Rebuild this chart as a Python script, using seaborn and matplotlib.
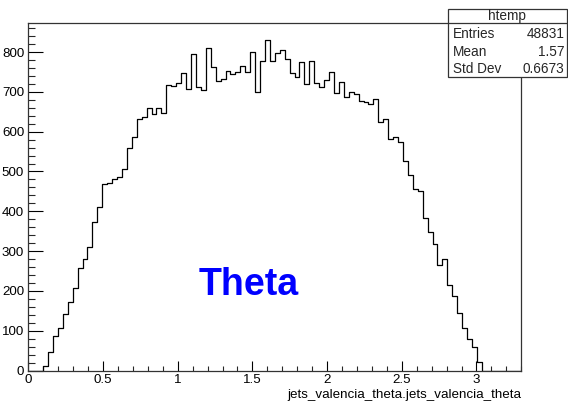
import numpy as np
import pandas as pd
import matplotlib
matplotlib.use("Agg")
import matplotlib.pyplot as plt
import seaborn as sns
from matplotlib.patches import Rectangle
from matplotlib.lines import Line2D
from matplotlib.ticker import MultipleLocator

# ---- data (100 bins on [0, 3.3]) ----
x_min, x_max, n_bins = 0.0, 3.3, 100
counts = [
    0, 0, 0, 11, 46, 87, 107, 143, 172, 207,
    257, 280, 310, 372, 410, 469, 470, 481, 485, 505,
    558, 587, 632, 638, 659, 644, 659, 648, 717, 715,
    723, 747, 707, 795, 713, 705, 810, 763, 728, 732,
    753, 744, 751, 766, 751, 801, 700, 778, 831, 778,
    798, 805, 782, 747, 737, 774, 720, 778, 722, 712,
    730, 749, 696, 724, 686, 699, 694, 678, 675, 669,
    681, 625, 631, 581, 587, 573, 527, 491, 456, 452,
    382, 347, 318, 265, 279, 215, 188, 145, 106, 78,
    58, 21, 0, 0, 0, 0, 0, 0, 0, 0,
]
x_tick_vals = [0, 0.5, 1, 1.5, 2, 2.5, 3]
x_tick_labels = ["0", "0.5", "1", "1.5", "2", "2.5", "3"]
y_tick_vals = [0, 100, 200, 300, 400, 500, 600, 700, 800]
x_title = "jets_valencia_theta.jets_valencia_theta"
annotation = "Theta"
stats_title = "htemp"
stats_rows = [("Entries", "48831"), ("Mean", "1.57"), ("Std Dev", "0.6673")]

# ---- figure ----
W, H = 568, 405
sns.set_theme(style="white")
plt.rcParams["font.family"] = ["Liberation Sans", "DejaVu Sans"]

fig = plt.figure(figsize=(W / 100, H / 100), dpi=100)
fig.patch.set_facecolor("white")
L, R, T, B = 28.3, 521.3, 23.2, 370.5
ax = fig.add_axes([L / W, 1 - B / H, (R - L) / W, (B - T) / H])

edges = np.linspace(x_min, x_max, n_bins + 1)
centers = 0.5 * (edges[:-1] + edges[1:])
df = pd.DataFrame({"theta": centers, "n": np.asarray(counts, dtype=float)})
sns.histplot(data=df, x="theta", weights="n", bins=n_bins, binrange=(x_min, x_max),
             element="step", fill=False, color="black", linewidth=0.9, ax=ax)

ax.set_xlim(x_min, x_max)
ax.set_ylim(0, 1.05 * max(counts))
ax.set_ylabel("")
ax.set_xlabel("")
ax.set_xticks(x_tick_vals)
ax.set_xticklabels(x_tick_labels)
ax.set_yticks(y_tick_vals)
ax.set_yticklabels([str(v) for v in y_tick_vals])
ax.xaxis.set_minor_locator(MultipleLocator(0.1))
ax.yaxis.set_minor_locator(MultipleLocator(20))
ax.tick_params(axis="x", which="major", direction="in", length=7.5, width=0.8,
               labelsize=9.6, pad=2.5, colors="black", bottom=True)
ax.tick_params(axis="x", which="minor", direction="in", length=3.7, width=0.8,
               bottom=True)
ax.tick_params(axis="y", which="major", direction="in", length=10.6, width=0.8,
               labelsize=9.6, pad=3, colors="black", left=True)
ax.tick_params(axis="y", which="minor", direction="in", length=5.3, width=0.8,
               left=True)
for s in ax.spines.values():
    s.set_color("#333333")
    s.set_linewidth(0.9)

# x axis title, right aligned at frame end
fig.text(R / W, 1 - 395 / H, x_title, ha="right", va="center", fontsize=9.6,
         color="black")

# annotation
fig.text(249 / W, 1 - 285 / H, annotation, ha="center", va="center",
         fontsize=27, fontweight="bold", color="#0000ff")

# stats box
bx0, bx1, by0, by1, bsep = 447.7, 566.7, 9.0, 77.3, 22.7
fig.patches.append(Rectangle((bx0 / W, 1 - by1 / H), (bx1 - bx0) / W, (by1 - by0) / H,
                             transform=fig.transFigure, facecolor="white",
                             edgecolor="#333333", linewidth=0.9, zorder=5))
fig.lines.append(Line2D([bx0 / W, bx1 / W], [1 - bsep / H, 1 - bsep / H],
                        transform=fig.transFigure, color="#333333", linewidth=0.9,
                        zorder=6))
fig.text((bx0 + bx1) / 2 / W, 1 - 16 / H, stats_title, ha="center", va="center",
         fontsize=9.8, zorder=7)
row_y = [34.3, 51.7, 69.0]
for (k, v), yy in zip(stats_rows, row_y):
    fig.text(452.7 / W, 1 - yy / H, k, ha="left", va="center", fontsize=9.8, zorder=7)
    fig.text(564.3 / W, 1 - yy / H, v, ha="right", va="center", fontsize=9.8, zorder=7)

fig.savefig("out.png", dpi=100)
